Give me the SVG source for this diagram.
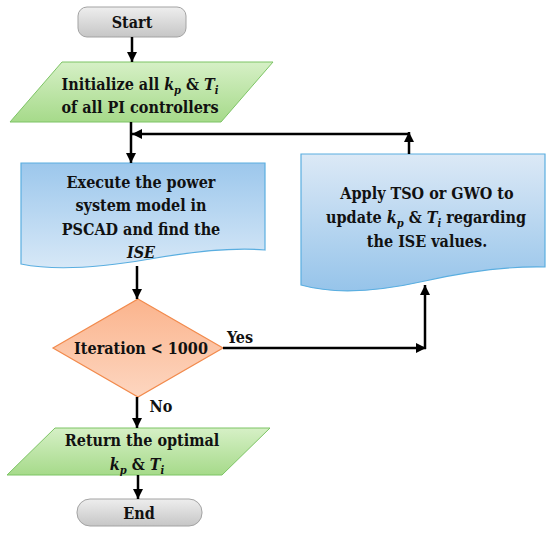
<svg xmlns="http://www.w3.org/2000/svg" width="550" height="536" viewBox="0 0 550 536">
<defs>
<linearGradient id="gGray" x1="0" y1="0" x2="0" y2="1"><stop offset="0" stop-color="#eeeeee"/><stop offset="1" stop-color="#c6c6c6"/></linearGradient>
<linearGradient id="gGreen" x1="0" y1="0" x2="0" y2="1"><stop offset="0" stop-color="#d6f0c6"/><stop offset="1" stop-color="#a6da8a"/></linearGradient>
<linearGradient id="gBlueDown" x1="0" y1="0" x2="0" y2="1"><stop offset="0" stop-color="#9cc7ec"/><stop offset="1" stop-color="#d7e8f7"/></linearGradient>
<linearGradient id="gBlueUp" x1="0" y1="0" x2="0" y2="1"><stop offset="0" stop-color="#dce9f6"/><stop offset="1" stop-color="#96c4ea"/></linearGradient>
<linearGradient id="gOrange" x1="0" y1="0" x2="0" y2="1"><stop offset="0" stop-color="#fbb48d"/><stop offset="1" stop-color="#fdd6c0"/></linearGradient>
<marker id="ah" viewBox="0 0 10 10" refX="10" refY="5" markerWidth="4" markerHeight="4" markerUnits="strokeWidth" orient="auto"><path d="M0,0 L10,5 L0,10 z" fill="#000"/></marker>
</defs>
<style>
text{font-family:"DejaVu Serif Condensed","DejaVu Serif",serif;font-weight:bold;font-size:16px;fill:#111;text-anchor:middle}
.i{font-style:italic}
.sub{font-size:11px;font-style:italic}
.term{fill:url(#gGray);stroke:#a3a3a3;stroke-width:1}
.io{fill:url(#gGreen);stroke:#7dc465;stroke-width:1}
.doc{stroke:#5aaee0;stroke-width:1.2}
.dec{fill:url(#gOrange);stroke:#f28a4c;stroke-width:1.2}
.ca{fill:none;stroke:#000;stroke-width:2.5;marker-end:url(#ah)}
</style>
<g id="start">
<rect class="term" x="78" y="7" width="108" height="30" rx="9"/>
<text x="132" y="28">Start</text>
</g>
<g id="init">
<polygon class="io" points="62,62 273,62 221,122 10,122"/>
<text x="140" y="90">Initialize all <tspan class="i">k</tspan><tspan class="sub" dy="4">p</tspan><tspan dy="-4"> &amp; </tspan><tspan class="i">T</tspan><tspan class="sub" dy="4">i</tspan></text>
<text x="140" y="113">of all PI controllers</text>
</g>
<g id="execute">
<path class="doc" fill="url(#gBlueDown)" d="M21,163 H265 V250 C230,247 190,252 150,259 C110,266 60,272 21,264 Z"/>
<text x="141" y="188">Execute the power</text>
<text x="141" y="211">system model in</text>
<text x="141" y="235">PSCAD and find the</text>
<text x="141" y="258" class="i">ISE</text>
</g>
<g id="update">
<path class="doc" fill="url(#gBlueUp)" d="M301,154 H545 V267 C505,266 465,272 425,281 C385,290 340,296 301,285 Z"/>
<text x="427" y="199">Apply TSO or GWO to</text>
<text x="426" y="223">update <tspan class="i">k</tspan><tspan class="sub" dy="4">p</tspan><tspan dy="-4"> &amp; </tspan><tspan class="i">T</tspan><tspan class="sub" dy="4">i</tspan><tspan dy="-4"> regarding</tspan></text>
<text x="427" y="247">the ISE values.</text>
</g>
<g id="decision">
<polygon class="dec" points="138,299 223,348 138,397 53,348"/>
<text x="141" y="354">Iteration &lt; 1000</text>
</g>
<g id="return">
<polygon class="io" points="55,428 270,428 222,475 7,475"/>
<text x="142" y="446">Return the optimal</text>
<text x="137" y="470"><tspan class="i">k</tspan><tspan class="sub" dy="4">p</tspan><tspan dy="-4"> &amp; </tspan><tspan class="i">T</tspan><tspan class="sub" dy="4">i</tspan></text>
</g>
<g id="end">
<rect class="term" x="77" y="499" width="125" height="27" rx="13"/>
<text x="139" y="519">End</text>
</g>
<g id="connectors">
<line class="ca" x1="132" y1="37" x2="132" y2="62"/>
<line class="ca" x1="131" y1="122" x2="131" y2="163"/>
<line class="ca" x1="409" y1="154" x2="409" y2="132"/>
<line class="ca" x1="409" y1="134" x2="132" y2="134"/>
<line class="ca" x1="137" y1="266" x2="137" y2="299"/>
<line class="ca" x1="223" y1="348" x2="426" y2="348"/>
<line class="ca" x1="425" y1="349" x2="425" y2="285"/>
<line class="ca" x1="137" y1="397" x2="137" y2="428"/>
<line class="ca" x1="138" y1="475" x2="138" y2="499"/>
<text x="240" y="343">Yes</text>
<text x="161" y="412">No</text>
</g>
</svg>
